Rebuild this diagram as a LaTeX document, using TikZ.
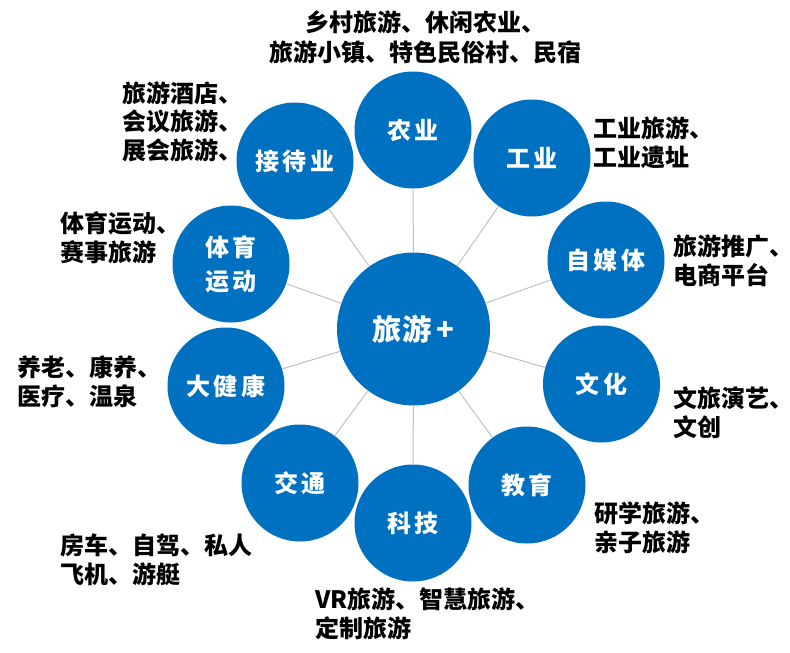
\documentclass[tikz,border=0pt]{standalone}
\usepackage{fontspec}
\setmainfont{Noto Sans CJK SC}
\definecolor{hubblue}{HTML}{0070C0}
\definecolor{linkgray}{HTML}{C0C0C0}

\begin{document}
\begin{tikzpicture}[
    x=0.75pt, y=-0.75pt,
    hub/.style={circle, fill=hubblue, minimum size=114.75pt, inner sep=0pt, text=white, font=\fontsize{22}{26}\selectfont\bfseries},
    field/.style={circle, fill=hubblue, minimum size=87.75pt, inner sep=0pt, text=white, align=center, font=\fontsize{18}{25.5}\selectfont\bfseries},
    note/.style={anchor=west, inner sep=0pt, align=left, font=\fontsize{18}{21.5}\selectfont\bfseries},
    link/.style={draw=linkgray, line width=0.75pt}
]
    \useasboundingbox (0,0) rectangle (790,653);

    % centre and the ten fields round it
    \node[hub] (hub) at (413.5,329) {旅游\,+};
    \node[field] (nongye) at (413,130) {农\,业};
    \node[field] (gongye) at (532,158) {工\,业};
    \node[field] (zimeiti) at (606,260) {自\,媒\,体};
    \node[field] (wenhua) at (601.5,384) {文\,化};
    \node[field] (jiaoyu) at (527,485) {教\,育};
    \node[field] (keji) at (413,523) {科\,技};
    \node[field] (jiaotong) at (300,483) {交\,通};
    \node[field] (dajiankang) at (226,386) {大\,健\,康};
    \node[field] (tiyu) at (231,264) {体\,育\\运\,动};
    \node[field] (jiedai) at (295,161) {接\,待\,业};

    \foreach \f in {nongye,gongye,zimeiti,wenhua,jiaoyu,keji,jiaotong,dajiankang,tiyu,jiedai}
        \draw[link] (hub) -- (\f);

    % notes beside the fields
    \node[note, anchor=center, align=center, font=\fontsize{18}{22.5}\selectfont\bfseries] (nongyenote) at (425,37) {乡村旅游、休闲农业、\\旅游小镇、特色民俗村、民宿};
    \node[note] (gongyenote) at (593,142.5) {工业旅游、\\工业遗址};
    \node[note] (zimeitinote) at (673,261) {旅游推广、\\电商平台};
    \node[note] (wenhuanote) at (673,412.5) {文旅演艺、\\文创};
    \node[note] (jiaoyunote) at (594,527.5) {研学旅游、\\亲子旅游};
    \node[note] (kejinote) at (315,614) {VR旅游、智慧旅游、\\定制旅游};
    \node[note] (jiaotongnote) at (60,560) {房车、自驾、私人\\飞机、游艇};
    \node[note] (dajiankangnote) at (17,381.5) {养老、康养、\\医疗、温泉};
    \node[note] (tiyunote) at (60,237.5) {体育运动、\\赛事旅游};
    \node[note] (jiedainote) at (122,121.5) {旅游酒店、\\会议旅游、\\展会旅游、};
\end{tikzpicture}
\end{document}
